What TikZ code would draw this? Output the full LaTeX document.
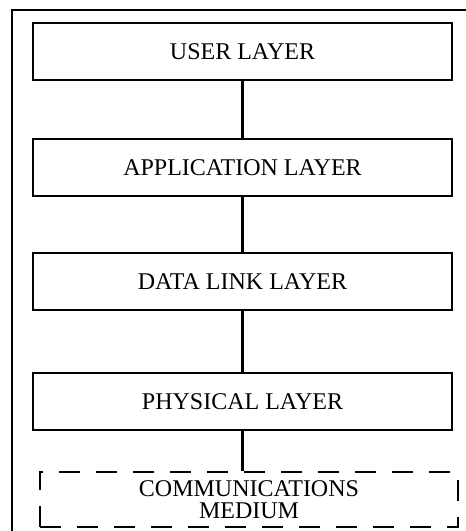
\documentclass[tikz,border=0pt]{standalone}
\usepackage{fontspec}
\setmainfont{Liberation Serif}
\usepackage{tikz}
\usetikzlibrary{positioning}

\begin{document}
\begin{tikzpicture}[
  x=0.5pt, y=0.5pt,
  font=\fontsize{12}{11}\selectfont,
  layer/.style={draw, line width=1.2pt, align=center, inner sep=0pt, minimum width=209.5pt, minimum height=28.5pt},
  medium/.style={draw, dash pattern=on 10.5pt off 8pt, line width=1.2pt, align=center, inner sep=0pt, minimum width=209pt, minimum height=27.5pt},
  link/.style={line width=1.2pt}
]
\useasboundingbox (0,0) rectangle (466,531);
% outer frame, cut off at right and bottom
\draw[line width=1.2pt] (12,-20) -- (12,521) -- (490,521);
\node[layer] (user) at (242.5,479.5) {USER LAYER};
\node[layer] (app) at (242.5,363.5) {APPLICATION LAYER};
\node[layer] (dll) at (242.5,249.5) {DATA LINK LAYER};
\node[layer] (phy) at (242.5,129.5) {PHYSICAL LAYER};
\node[medium] (med) at (249,31.5) {COMMUNICATIONS\\MEDIUM};
\draw[link] (user) -- (app);
\draw[link] (app) -- (dll);
\draw[link] (dll) -- (phy);
\draw[link] (phy.south) -- (phy.south |- med.north);
\end{tikzpicture}
\end{document}
